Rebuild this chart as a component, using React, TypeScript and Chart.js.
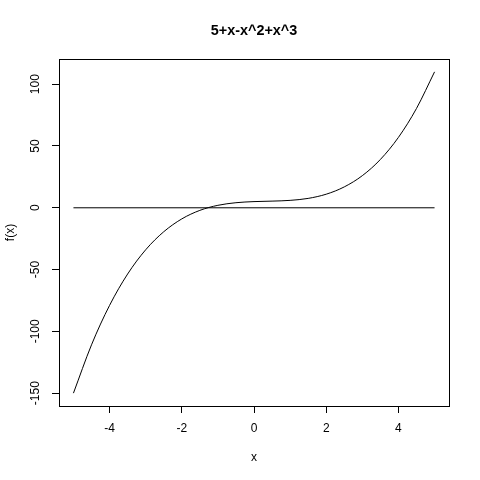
import React, { useEffect, useRef } from "react";
import { Chart, registerables } from "chart.js";

Chart.register(...registerables);

const TITLE = "5+x-x^2+x^3";
const X_LABEL = "x";
const Y_LABEL = "f(x)";

// values
const xValues = [-5, -4.5, -4, -3.5, -3, -2.5, -2, -1.5, -1, -0.5, 0, 0.5, 1, 1.5, 2, 2.5, 3, 3.5, 4, 4.5, 5];
const fValues = [-150, -110.9, -79, -53.6, -34, -19.4, -9, -2.1, 2, 4.1, 5, 5.4, 6, 7.6, 11, 16.9, 26, 39.1, 57, 80.4, 110];

// horizontal reference line
const baseX = [-5, 5];
const baseY = [0, 0];

const xTicks = [-4, -2, 0, 2, 4];
const yTicks = [-150, -100, -50, 0, 50, 100];
const xRange = [-5.4, 5.4];
const yRange = [-160.4, 120.4];

const FONT = "'Liberation Sans', Arial, Helvetica, sans-serif";

const boxPlugin = {
  id: "rbox",
  afterDraw(chart: any) {
    const { ctx, chartArea: a } = chart;
    ctx.save();
    ctx.strokeStyle = "#000";
    ctx.lineWidth = 1;
    const l = Math.round(a.left);
    const t = Math.round(a.top);
    ctx.strokeRect(l + 0.5, t + 0.5, Math.round(a.right) - l, Math.round(a.bottom) - t);
    ctx.restore();
  },
};

export default function App() {
  const ref = useRef<HTMLCanvasElement | null>(null);

  useEffect(() => {
    if (!ref.current) return;
    const chart = new Chart(ref.current, {
      type: "line",
      data: {
        datasets: [
          {
            data: xValues.map((x, i) => ({ x, y: fValues[i] })),
            borderColor: "#000",
            borderWidth: 1,
            pointRadius: 0,
            cubicInterpolationMode: "monotone",
            fill: false,
          },
          {
            data: baseX.map((x, i) => ({ x, y: baseY[i] })),
            borderColor: "#000",
            borderWidth: 1,
            pointRadius: 0,
            fill: false,
          },
        ],
      },
      plugins: [boxPlugin],
      options: {
        animation: false,
        responsive: false,
        devicePixelRatio: 1,
        events: [],
        layout: { padding: { left: 0, right: 31, top: 0, bottom: 0 } },
        plugins: {
          legend: { display: false },
          tooltip: { enabled: false },
          title: {
            display: true,
            text: TITLE,
            fullSize: false,
            color: "#000",
            font: { family: FONT, size: 14.4, weight: "bold", lineHeight: 1.2 },
            padding: { top: 22, bottom: 19.72 },
          },
        },
        scales: {
          x: {
            type: "linear",
            min: xRange[0],
            max: xRange[1],
            afterBuildTicks: (s: any) => {
              s.ticks = xTicks.map((v) => ({ value: v }));
            },
            afterFit: (s: any) => {
              s.height = 74;
            },
            grid: {
              drawOnChartArea: false,
              drawTicks: true,
              tickLength: 7,
              color: "#000",
              lineWidth: 1,
            },
            border: { display: false },
            ticks: {
              autoSkip: false,
              maxRotation: 0,
              minRotation: 0,
              padding: 8.8,
              color: "#000",
              font: { family: FONT, size: 12 },
            },
            title: {
              display: true,
              text: X_LABEL,
              color: "#000",
              font: { family: FONT, size: 12, lineHeight: 1.2 },
              padding: { top: 0, bottom: 14.8 },
            },
          },
          y: {
            type: "linear",
            min: yRange[0],
            max: yRange[1],
            afterBuildTicks: (s: any) => {
              s.ticks = yTicks.map((v) => ({ value: v }));
            },
            afterFit: (s: any) => {
              s.width = 59;
            },
            grid: {
              drawOnChartArea: false,
              drawTicks: true,
              tickLength: 7,
              color: "#000",
              lineWidth: 1,
            },
            border: { display: false },
            ticks: {
              autoSkip: false,
              minRotation: 90,
              maxRotation: 90,
              crossAlign: "center",
              padding: 4,
              color: "#000",
              font: { family: FONT, size: 12 },
            },
            title: {
              display: true,
              text: Y_LABEL,
              color: "#000",
              font: { family: FONT, size: 12, lineHeight: 1.2 },
              padding: { top: 3.8, bottom: 0 },
            },
          },
        },
      },
    } as any);
    return () => chart.destroy();
  }, []);

  return (
    <div style={{ position: "absolute", left: 0, top: 0, width: 480, height: 480, background: "#fff" }}>
      <canvas ref={ref} width={480} height={480} style={{ display: "block" }} />
    </div>
  );
}
